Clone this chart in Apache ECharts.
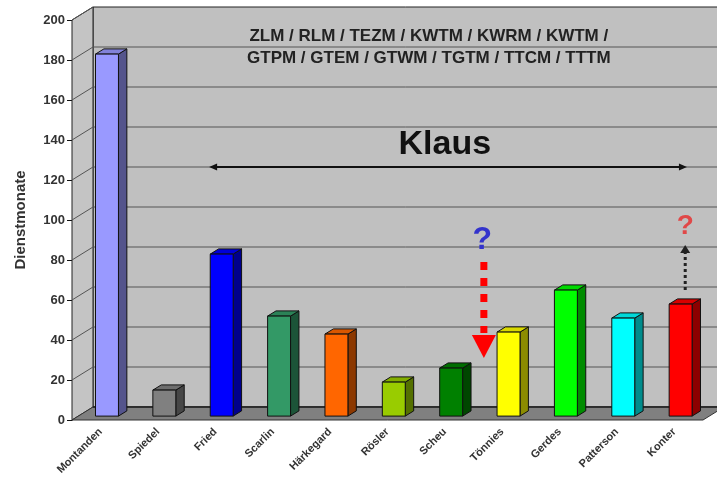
<!DOCTYPE html>
<html>
<head>
<meta charset="utf-8">
<script src="https://cdn.jsdelivr.net/npm/echarts@6/dist/echarts.min.js"></script>
<style>
html,body{margin:0;padding:0;background:#fff;}
#chart{width:717px;height:482px;}
</style>
</head>
<body>
<div id="chart"></div>
<script>
// ---- data ----
const categories = ['Montanden','Spiedel','Fried','Scarlin','Härkegard','Rösler','Scheu','Tönnies','Gerdes','Patterson','Konter'];
const dienstmonate = [181, 13, 81, 50, 41, 17, 24, 42, 63, 49, 56];
const yTicks = [0, 20, 40, 60, 80, 100, 120, 140, 160, 180, 200];
const titleLine1 = 'ZLM / RLM / TEZM / KWTM / KWRM / KWTM /';
const titleLine2 = 'GTPM / GTEM / GTWM / TGTM / TTCM / TTTM';
const groupLabel = 'Klaus';

// ---- styles ----
const barColors = ['#9999ff','#808080','#0000ff','#339966','#ff6600','#99cc00','#008000','#ffff00','#00ff00','#00ffff','#ff0000'];
const DX = 21, DY = -13;
const FONT = '"Liberation Sans", Arial, sans-serif';

function shade(hex, f) {
  const n = parseInt(hex.slice(1), 16);
  let r = (n >> 16) & 255, g = (n >> 8) & 255, b = n & 255;
  if (f < 1) { r *= f; g *= f; b *= f; }
  else { const t = f - 1; r += (255 - r) * t; g += (255 - g) * t; b += (255 - b) * t; }
  return 'rgb(' + Math.round(r) + ',' + Math.round(g) + ',' + Math.round(b) + ')';
}

const yMax = yTicks[yTicks.length - 1];
const yStep = yTicks[1] - yTicks[0];

function renderWalls(params, api) {
  const bw = api.size([1, 0])[0];
  const c0 = api.coord([0, 0]);
  const left = c0[0] - bw / 2;
  const right = left + categories.length * bw;
  const bottom = c0[1];
  const top = api.coord([0, yMax])[1];
  const ch = [];
  ch.push({type: 'polygon', shape: {points: [[left + DX, top + DY], [right + DX + 40, top + DY], [right + DX + 40, bottom + DY], [left + DX, bottom + DY]]},
    style: {fill: '#c0c0c0', stroke: '#222', lineWidth: 1}});
  ch.push({type: 'polygon', shape: {points: [[left, bottom], [left, top], [left + DX, top + DY], [left + DX, bottom + DY]]},
    style: {fill: '#c4c4c4', stroke: '#222', lineWidth: 1}});
  for (const v of yTicks) {
    const y = api.coord([0, v])[1];
    if (v > 0 && v < yMax) {
      ch.push({type: 'line', shape: {x1: left + DX, y1: y + DY, x2: right + DX + 40, y2: y + DY}, style: {stroke: '#555', lineWidth: 1}});
    }
    if (v > 0) {
      ch.push({type: 'line', shape: {x1: left, y1: y, x2: left + DX, y2: y + DY}, style: {stroke: '#555', lineWidth: 1}});
    }
  }
  ch.push({type: 'polygon', shape: {points: [[left, bottom], [right, bottom], [right + DX, bottom + DY], [left + DX, bottom + DY]]},
    style: {fill: '#808080', stroke: '#333', lineWidth: 1}});
  ch.push({type: 'line', shape: {x1: left + DX, y1: bottom + DY, x2: right + DX + 40, y2: bottom + DY}, style: {stroke: '#222', lineWidth: 1.5}});
  return {type: 'group', children: ch};
}

function renderBar(params, api) {
  const i = api.value(0), v = api.value(1);
  const bw = api.size([1, 0])[0];
  const base = api.coord([i, 0]);
  const tp = api.coord([i, v]);
  const w = bw * 0.4;
  const ox = DX * 0.3, oy = DY * 0.3, dx = DX * 0.4, dy = DY * 0.4;
  const x0 = base[0] + ox - w / 2, x1 = x0 + w;
  const yb = base[1] + oy, yt = tp[1] + oy;
  const c = barColors[params.dataIndex];
  const st = {stroke: '#111', lineWidth: 1, lineJoin: 'round'};
  return {type: 'group', children: [
    {type: 'polygon', shape: {points: [[x1, yt], [x1 + dx, yt + dy], [x1 + dx, yb + dy], [x1, yb]]}, style: Object.assign({fill: shade(c, 0.55)}, st)},
    {type: 'polygon', shape: {points: [[x0, yt], [x0 + dx, yt + dy], [x1 + dx, yt + dy], [x1, yt]]}, style: Object.assign({fill: shade(c, 0.85)}, st)},
    {type: 'polygon', shape: {points: [[x0, yt], [x1, yt], [x1, yb], [x0, yb]]}, style: Object.assign({fill: c}, st)}
  ]};
}

const chart = echarts.init(document.getElementById('chart'), null, {renderer: 'canvas'});
chart.setOption({
  backgroundColor: '#ffffff',
  animation: false,
  grid: {left: 72, right: 14, top: 20, bottom: 62},
  xAxis: {
    type: 'category', data: categories,
    axisLine: {show: false}, axisTick: {show: false},
    axisLabel: {rotate: 45, interval: 0, margin: 10, fontSize: 11, fontWeight: 'bold', color: '#333', fontFamily: FONT}
  },
  yAxis: {
    type: 'value', min: 0, max: yMax, interval: yStep,
    name: 'Dienstmonate', nameLocation: 'middle', nameGap: 44,
    nameTextStyle: {fontSize: 15, fontWeight: 'bold', color: '#333', fontFamily: FONT},
    axisLine: {show: true, lineStyle: {color: '#111', width: 1}},
    axisTick: {show: true, length: 5, lineStyle: {color: '#111'}},
    axisLabel: {fontSize: 13, fontWeight: 'bold', color: '#333', margin: 7, fontFamily: FONT},
    splitLine: {show: false}
  },
  series: [
    {type: 'custom', name: 'walls', renderItem: renderWalls, data: [[0, 0]], z: 1, silent: true, clip: false},
    {type: 'custom', name: 'Dienstmonate', renderItem: renderBar, data: dienstmonate.map((v, i) => [i, v]), z: 3, clip: false}
  ]
});

// ---- annotations, positioned through the chart's scales ----
function px(idx, val) {
  const a = chart.convertToPixel({gridIndex: 0}, [0, val]);
  const b = chart.convertToPixel({gridIndex: 0}, [1, val]);
  return [a[0] + idx * (b[0] - a[0]), a[1]];
}
const g = [];
function text(idx, val, str, size, color) {
  const p = px(idx, val);
  g.push({type: 'text', x: p[0], y: p[1], z: 10, style: {text: str, fontSize: size, fontWeight: 'bold', fill: color, fontFamily: FONT, textAlign: 'center', textVerticalAlign: 'middle'}});
}
text(5.72, 192, titleLine1, 17, '#222');
text(5.72, 181, titleLine2, 17, '#222');
text(6.0, 137.5, groupLabel, 34, '#111');
// Klaus double arrow
(function () {
  const a = px(1.89, 126.5), b = px(10.22, 126.5);
  g.push({type: 'line', z: 10, shape: {x1: a[0] + 4, y1: a[1], x2: b[0] - 4, y2: b[1]}, style: {stroke: '#111', lineWidth: 2}});
  g.push({type: 'polygon', z: 10, shape: {points: [[a[0], a[1]], [a[0] + 8, a[1] - 3.5], [a[0] + 8, a[1] + 3.5]]}, style: {fill: '#111'}});
  g.push({type: 'polygon', z: 10, shape: {points: [[b[0], b[1]], [b[0] - 8, b[1] - 3.5], [b[0] - 8, b[1] + 3.5]]}, style: {fill: '#111'}});
})();
// blue question mark + red dashed arrow
text(6.65, 90, '?', 32, '#3333cc');
(function () {
  const a = px(6.68, 79), b = px(6.68, 43.5), t = px(6.68, 42.5), tip = px(6.68, 31);
  g.push({type: 'line', z: 10, shape: {x1: a[0], y1: a[1], x2: b[0], y2: b[1]}, style: {stroke: '#ff0000', lineWidth: 7, lineDash: [8, 8]}});
  g.push({type: 'polygon', z: 10, shape: {points: [[t[0] - 12, t[1]], [t[0] + 12, t[1]], [tip[0], tip[1]]]}, style: {fill: '#ff0000'}});
})();
// red question mark + black dotted arrow
text(10.19, 97, '?', 28, '#e04848');
(function () {
  const a = px(10.19, 65), b = px(10.19, 83.5), tip = px(10.19, 87.5);
  g.push({type: 'line', z: 10, shape: {x1: a[0], y1: a[1], x2: b[0], y2: b[1]}, style: {stroke: '#222', lineWidth: 3, lineDash: [3, 3]}});
  g.push({type: 'polygon', z: 10, shape: {points: [[b[0] - 5, b[1]], [b[0] + 5, b[1]], [tip[0], tip[1]]]}, style: {fill: '#222'}});
})();
chart.setOption({graphic: g});
</script>
</body>
</html>
